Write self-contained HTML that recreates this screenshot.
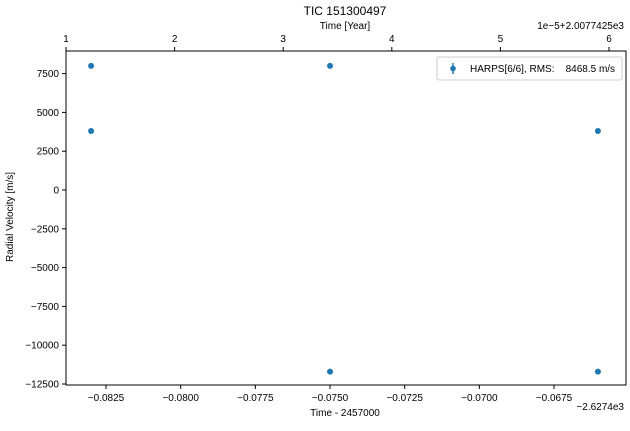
<!DOCTYPE html>
<html><head><meta charset="utf-8"><style>
body{margin:0;background:#fff;font-family:"Liberation Sans",Arial,sans-serif}
svg text{font-family:"Liberation Sans",Arial,sans-serif;fill:#000}
</style></head><body>
<svg id="chart" width="630" height="426" xmlns="http://www.w3.org/2000/svg">
<rect width="630" height="426" fill="#fff"/>
<text x="345" y="15" font-size="12" text-anchor="middle">TIC 151300497</text>
<text x="345" y="29" font-size="10" text-anchor="middle">Time [Year]</text>
<text x="624" y="29" font-size="10" text-anchor="end">1e−5+2.0077425e3</text>
<text x="345" y="416" font-size="10" text-anchor="middle">Time - 2457000</text>
<text x="624" y="410" font-size="10" text-anchor="end">−2.6274e3</text>
<text transform="translate(13,217) rotate(-90)" font-size="10" text-anchor="middle">Radial Velocity [m/s]</text>
<g id="axes"></g>
<g id="points"></g>
<g>
<rect x="437" y="57" width="185" height="23" rx="2" fill="#fff" stroke="#ccc"/>
<line x1="453" y1="63" x2="453" y2="74" stroke="#1f77b4" stroke-width="1.5"/>
<circle cx="453" cy="68.5" r="2.8" fill="#1f77b4"/>
<text x="470" y="72" font-size="10" style="white-space:pre" xml:space="preserve">HARPS[6/6], RMS:    8468.5 m/s</text>
</g>
</svg>
<script>
const xs=[-0.0830,-0.0830,-0.0750,-0.0750,-0.06603,-0.06603];
const ys=[8000,3800,8000,-11700,3800,-11700];
const xTicks=[-0.0825,-0.0800,-0.0775,-0.0750,-0.0725,-0.0700,-0.0675];
const xTickLabels=["−0.0825","−0.0800","−0.0775","−0.0750","−0.0725","−0.0700","−0.0675"];
const yTicks=[7500,5000,2500,0,-2500,-5000,-7500,-10000,-12500];
const yTickLabels=["7500","5000","2500","0","−2500","−5000","−7500","−10000","−12500"];
const topTicks=[1,2,3,4,5,6];
const L=66,R=626,T=51,B=385;
const xMin=-0.08384,xMax=-0.06509,yMin=-12564,yMax=8956;
const sx=v=>L+(v-xMin)/(xMax-xMin)*(R-L);
const sy=v=>B-(v-yMin)/(yMax-yMin)*(B-T);
const st=v=>66+(v-1)*108.6;
const NS="http://www.w3.org/2000/svg";
const ax=document.getElementById('axes'),pts=document.getElementById('points');
function mk(tag,at,p){const e=document.createElementNS(NS,tag);for(const k in at)e.setAttribute(k,at[k]);p.appendChild(e);return e;}
const frame=mk('rect',{x:L,y:T,width:R-L,height:B-T,fill:'none',stroke:'#000','stroke-width':1},ax);


xTicks.forEach((v,i)=>{const x=sx(v);
 mk('line',{x1:x,x2:x,y1:B,y2:B+4,stroke:'#000'},ax);
 const t=mk('text',{x:x,y:B+16,'font-size':10,'text-anchor':'middle'},ax);t.textContent=xTickLabels[i];
 
 });
yTicks.forEach((v,i)=>{const y=sy(v);
 mk('line',{x1:L-4,x2:L,y1:y,y2:y,stroke:'#000'},ax);
 const t=mk('text',{x:L-7,y:y+3.5,'font-size':10,'text-anchor':'end'},ax);t.textContent=yTickLabels[i];
 
 });
topTicks.forEach(v=>{const x=st(v);
 mk('line',{x1:x,x2:x,y1:T-4,y2:T,stroke:'#000'},ax);
 const t=mk('text',{x:x,y:T-9,'font-size':10,'text-anchor':'middle'},ax);t.textContent=String(v);
 
 });
xs.forEach((v,i)=>{const c=mk('circle',{cx:sx(v),cy:sy(ys[i]),r:3,fill:'#1f77b4'},pts);
 
 });
</script>
</body></html>
